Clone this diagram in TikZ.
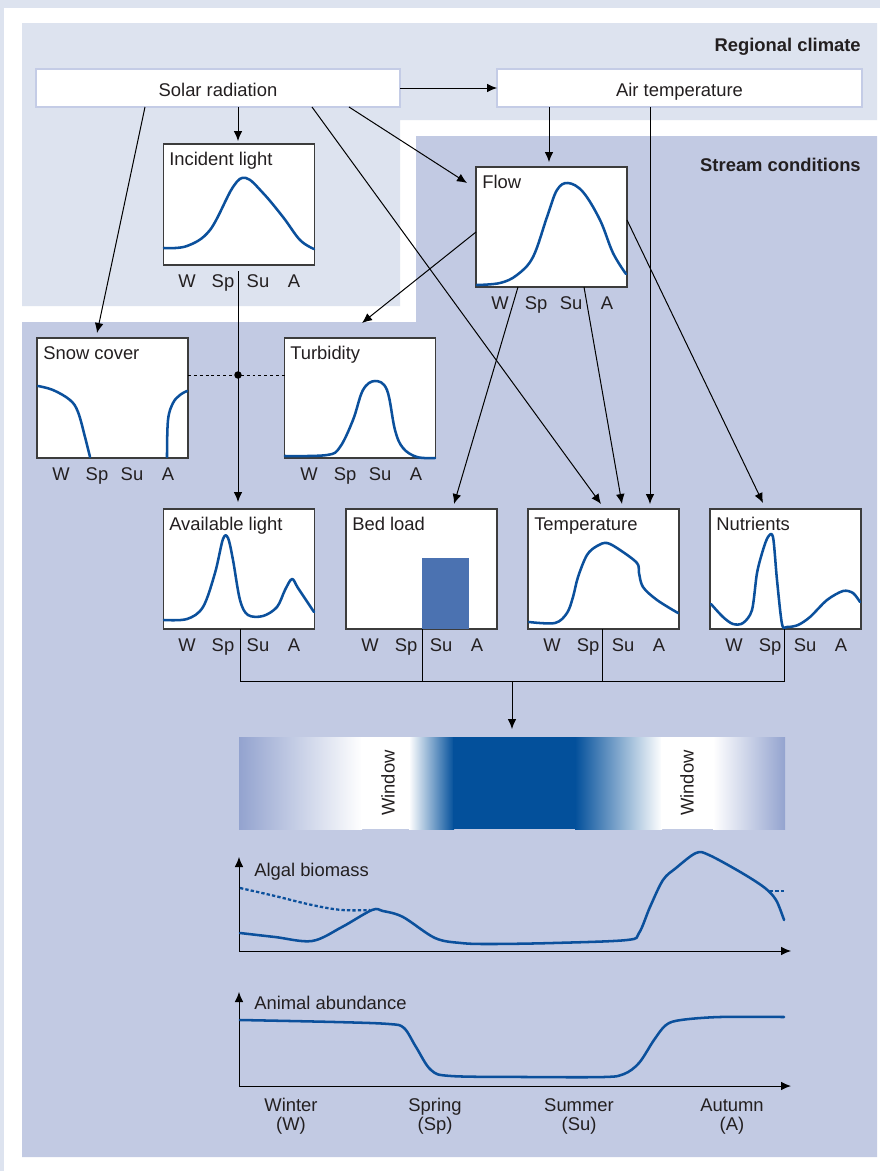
\documentclass[tikz,border=0pt]{standalone}
\usepackage{fontspec}
\setmainfont{Liberation Sans}
\usetikzlibrary{arrows.meta,calc}
\definecolor{regc}{HTML}{DDE3EF}
\definecolor{strc}{HTML}{C2CAE3}
\definecolor{curvc}{HTML}{0B509C}
\definecolor{boxc}{HTML}{3C3C3C}
\definecolor{txtc}{HTML}{231F20}
\definecolor{barc}{HTML}{4B72B1}
\definecolor{edgec}{HTML}{C4CCE6}
\definecolor{gradl}{HTML}{93A3CF}
\definecolor{gradd}{HTML}{03509B}
\newcommand\seasonrow[3]{%
  \node[tick] (#3-lw) at (#1+24,#2) {W};
  \node[tick] (#3-lsp) at (#1+60,#2) {Sp};
  \node[tick] (#3-lsu) at (#1+95,#2) {Su};
  \node[tick] (#3-la) at (#1+131,#2) {A};}
\begin{document}
\begin{tikzpicture}[x=0.75pt,y=-0.75pt,
  font=\fontsize{13.8}{16}\selectfont, text=txtc,
  panel/.style={draw=boxc, line width=1.2pt, fill=white, minimum width=113.25pt, minimum height=90pt, inner sep=0pt, outer sep=0pt},
  topbox/.style={draw=edgec, line width=1.6pt, fill=white, minimum height=28.5pt, inner sep=0pt, outer sep=0pt, text height=12pt, text depth=0pt},
  conn/.style={draw=black, line width=0.75pt},
  arr/.style={conn, -{Latex[length=7.5pt,width=6.5pt]}},
  curve/.style={draw=curvc, line width=1.9pt, line join=round, line cap=round},
  ttl/.style={anchor=base west, inner sep=0pt},
  tick/.style={anchor=base, inner sep=0pt},
  bold/.style={anchor=base east, inner sep=0pt, font=\fontsize{13.8}{16}\selectfont\bfseries},
  ]
\useasboundingbox (0,0) rectangle (880,1171);
% background frame
\fill[regc] (0,0) rectangle (880,1171);
\fill[white] (4,8) rectangle (880,1171);
% panels
\fill[regc] (22,23) -- (877,23) -- (877,120) -- (400,120) -- (400,306) -- (22,306) -- cycle;
\fill[strc] (416,136) -- (877,136) -- (877,1157) -- (22,1157) -- (22,322) -- (416,322) -- cycle;
\node[bold] (regl) at (861,51) {Regional climate};
\node[bold] (strl) at (861,171) {Stream conditions};

% top boxes
\node[topbox, minimum width=273pt] (solar) at (218,88) {Solar radiation};
\node[topbox, minimum width=273.75pt] (air) at (679.5,88) {Air temperature};

% panel boxes
\node[panel, minimum height=90.75pt] (inc) at (239,204.5) {};
\node[panel] (flow) at (551.5,227) {};
\node[panel] (snow) at (112.5,398) {};
\node[panel] (turb) at (360,398) {};
\node[panel] (avail) at (239,569) {};
\node[panel] (bed) at (421.5,569) {};
\node[panel] (temp) at (603.5,569) {};
\node[panel] (nutr) at (785.5,569) {};

\node[ttl] (incT) at (169,165) {Incident light};
\node[ttl] (flowT) at (482,188) {Flow};
\node[ttl] (snowT) at (43,359) {Snow cover};
\node[ttl] (turbT) at (290,359) {Turbidity};
\node[ttl] (availT) at (169,530) {Available light};
\node[ttl] (bedT) at (352,530) {Bed load};
\node[ttl] (tempT) at (534,530) {Temperature};
\node[ttl] (nutrT) at (716,530) {Nutrients};

\seasonrow{163}{287}{inc}
\seasonrow{476}{309}{flo}
\seasonrow{37}{480}{sno}
\seasonrow{285}{480}{tur}
\seasonrow{163}{651}{ava}
\seasonrow{346}{651}{bdl}
\seasonrow{528}{651}{tem}
\seasonrow{710}{651}{nut}

% curves
\draw[curve] plot[smooth, tension=0.6] coordinates {(164,248) (187,246) (210,230) (233,187) (246,178) (263,193) (283,217) (300,240) (314,249)};
\draw[curve] plot[smooth, tension=0.6] coordinates {(477,285) (500,283) (517,275) (533,257) (547,217) (557,190) (568,183) (583,192) (600,220) (613,253) (626,274)};
\draw[curve] plot[smooth, tension=0.6] coordinates {(38,386) (53,390) (70,400) (78,412) (85,437) (90,457)};
\draw[curve] plot[smooth, tension=0.6] coordinates {(167,457) (168,420) (173,403) (180,395) (187,391)};
\draw[curve] plot[smooth, tension=0.6] coordinates {(285,456) (327,455) (340,447) (353,420) (363,390) (375,381) (387,390) (395,430) (403,448) (417,457) (435,458)};
\draw[curve] plot[smooth, tension=0.55] coordinates {(164,620) (187,619) (203,607) (215,573) (223,539) (228,538) (233,560) (240,600) (248,615) (263,616) (277,607) (285,590) (292,579) (298,588) (314,612)};
\fill[barc] (422,558) rectangle (469,629);
\draw[curve] plot[smooth, tension=0.55] coordinates {(529,622) (555,623) (567,613) (573,597) (578,577) (587,555) (597,546) (607,543) (620,550) (637,563) (639,573) (643,587) (657,600) (678,613)};
\draw[curve] plot[smooth, tension=0.5] coordinates {(711,604) (723,617) (733,624) (743,623) (752,610) (757,573) (763,550) (768,537) (773,537) (777,580) (782,624) (787,627) (798,625) (810,617) (827,600) (843,591) (853,593) (860,602)};

% connector ports
\coordinate (s1) at (145,107);
\coordinate (s2) at (238,107);
\coordinate (s3) at (312,107);
\coordinate (s4) at (349,107);
\coordinate (a1) at (549,107);
\coordinate (a2) at (650,107);
\coordinate (f1) at (476,232);
\coordinate (f2) at (518,287);
\coordinate (f3) at (584,287);
\coordinate (f4) at (627,220);
\coordinate (i1) at (238,271);
\coordinate (snowin) at (97,333);
\coordinate (turbin) at (362,323);
\coordinate (incin) at (238,141);
\coordinate (flowin) at (467,183);
\coordinate (flowtop) at (549,162);
\coordinate (availin) at (238,502);
\coordinate (bedin) at (454,504);
\coordinate (tempin1) at (601,504);
\coordinate (tempin2) at (622,504);
\coordinate (tempin3) at (650,504);
\coordinate (nutrin) at (763,503);
\coordinate (junc) at (238,375);

\draw[arr] (solar.east) -- (air.west);
\draw[arr] (s1) -- (snowin);
\draw[arr] (s2) -- (incin);
\draw[arr] (s3) -- (tempin1);
\draw[arr] (s4) -- (flowin);
\draw[arr] (a1) -- (flowtop);
\draw[arr] (a2) -- (tempin3);
\draw[arr] (f1) -- (turbin);
\draw[arr] (f2) -- (bedin);
\draw[arr] (f3) -- (tempin2);
\draw[arr] (f4) -- (nutrin);
\draw[arr] (i1) -- (availin);
\draw[conn, dash pattern=on 2.2pt off 2.2pt] (snow.east |- junc) -- (turb.west |- junc);
\fill[black] (junc) circle (2.8pt);

% collector
\coordinate (c1) at (240,681);
\coordinate (c2) at (422,681);
\coordinate (c3) at (602,681);
\coordinate (c4) at (784,681);
\coordinate (cm) at (512,681);
\coordinate (bandin) at (512,729);
\draw[conn] (avail.south -| c1) -- (c1) -- (c4) -- (nutr.south -| c4);
\draw[conn] (bed.south -| c2) -- (c2);
\draw[conn] (temp.south -| c3) -- (c3);
\draw[arr] (cm) -- (bandin);

% gradient band
\shade[left color=gradl, right color=white] (239,737) rectangle (362,829);
\fill[white] (361,737) rectangle (410,829);
\shade[left color=white, right color=gradd] (409,737) rectangle (454,829);
\fill[gradd] (453,737) rectangle (576,829);
\shade[left color=gradd, right color=white] (575,737) rectangle (662,829);
\fill[white] (661,737) rectangle (714,829);
\shade[left color=white, right color=gradl] (713,737) rectangle (785,829);
\node[rotate=90, inner sep=0pt] (win1) at (388,783) {Window};
\node[rotate=90, inner sep=0pt] (win2) at (687,783) {Window};

% algal biomass
\coordinate (ao) at (239,951);
\coordinate (ay) at (239,857);
\coordinate (ax) at (791,951);
\draw[arr] (ao) -- (ay);
\draw[arr] (ao) -- (ax);
\node[ttl] (algT) at (254,876) {Algal biomass};
\draw[curve] plot[smooth, tension=0.55] coordinates {(240,933) (275,937) (312,941) (342,927) (372,910) (383,911) (403,917) (435,938) (461,943) (490,944) (553,943) (627,940) (639,933) (650,907) (663,880) (676,868) (696,853) (709,855) (742,873) (765,888) (776,900) (783,917) (784,920)};
\draw[curve, line width=1.7pt, line cap=butt, dash pattern=on 2.5pt off 1.6pt] plot[smooth, tension=0.6] coordinates {(240,888) (275,896) (312,905) (342,910) (370,910)};
\draw[curve, line width=1.7pt, line cap=butt, dash pattern=on 2.5pt off 1.6pt] (770,891) -- (786,891);

% animal abundance
\coordinate (bo) at (239,1086);
\coordinate (by) at (239,992);
\coordinate (bx) at (791,1086);
\draw[arr] (bo) -- (by);
\draw[arr] (bo) -- (bx);
\node[ttl] (aniT) at (254,1009) {Animal abundance};
\draw[curve] plot[smooth, tension=0.55] coordinates {(240,1020) (335,1022) (389,1024) (404,1028) (416,1047) (431,1070) (451,1076) (527,1077) (604,1077) (624,1074) (639,1063) (654,1040) (666,1025) (681,1020) (720,1017) (784,1017)};

% season labels
\node[tick] (winter) at (291,1111) {Winter};
\node[tick] (winterb) at (291,1130) {(W)};
\node[tick] (spring) at (435,1111) {Spring};
\node[tick] (springb) at (435,1130) {(Sp)};
\node[tick] (summer) at (579,1111) {Summer};
\node[tick] (summerb) at (579,1130) {(Su)};
\node[tick] (autumn) at (732,1111) {Autumn};
\node[tick] (autumnb) at (732,1130) {(A)};
\end{tikzpicture}
\end{document}
